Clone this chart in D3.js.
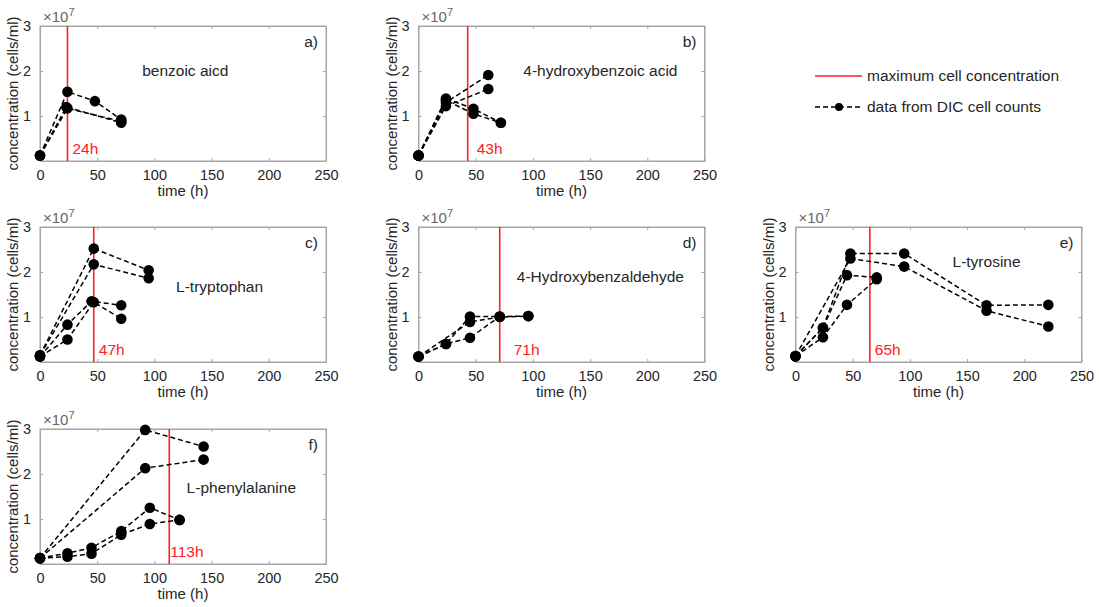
<!DOCTYPE html>
<html><head><meta charset="utf-8">
<script src="https://cdn.jsdelivr.net/npm/d3@7"></script>
<style>
body{margin:0;background:#fff;}
svg{font-family:"Liberation Sans",Arial,sans-serif;}
</style></head>
<body><svg id="chart" width="1099" height="607"></svg>
<script>
// ---------- data ----------
const xTicks = [0, 50, 100, 150, 200, 250];
const yTicks = [1, 2, 3];                 // ×10^7 cells/ml
const panelLetters = ["a)", "b)", "c)", "d)", "e)", "f)"];
const compounds = ["benzoic aicd", "4-hydroxybenzoic acid", "L-tryptophan", "4-Hydroxybenzaldehyde", "L-tyrosine", "L-phenylalanine"];
const maxTimes = [24, 43, 47, 71, 65, 113];
const maxLabels = ["24h", "43h", "47h", "71h", "65h", "113h"];
// each series: [time (h), concentration (×10^7)]
const seriesA = [
  [[0,0.12],[24,1.54],[48,1.33],[71,0.92]],
  [[0,0.12],[23,1.20],[71,0.85]],
  [[0,0.12],[24,1.17],[71,0.88]]
];
const seriesB = [
  [[0,0.12],[24,1.30],[61,1.91]],
  [[0,0.12],[24,1.22],[61,1.60]],
  [[0,0.12],[24,1.39],[48,1.16],[72,0.85]],
  [[0,0.12],[24,1.35],[48,1.05],[72,0.85]]
];
const seriesC = [
  [[0,0.15],[47,2.52],[95,2.04]],
  [[0,0.15],[47,2.17],[95,1.86]],
  [[0,0.12],[24,0.83],[45,1.35],[71,1.26]],
  [[0,0.12],[24,0.50],[47,1.33],[71,0.96]]
];
const seriesD = [
  [[0,0.12],[24,0.40],[45,1.01],[71,1.01],[96,1.02]],
  [[0,0.12],[45,0.89],[71,1.00],[96,1.02]],
  [[0,0.12],[24,0.40],[45,0.54],[71,1.01]]
];
const seriesE = [
  [[0,0.13],[24,0.76],[48,2.41],[95,2.41],[167,1.26],[221,1.27]],
  [[0,0.13],[48,2.30],[95,2.12],[167,1.14],[221,0.79]],
  [[0,0.13],[24,0.76],[45,1.93],[71,1.88]],
  [[0,0.13],[24,0.55],[45,1.27],[71,1.84]]
];
const seriesF = [
  [[0,0.13],[92,2.98],[143,2.61]],
  [[0,0.13],[92,2.13],[143,2.32]],
  [[0,0.13],[24,0.24],[45,0.36],[71,0.73],[96,1.25],[122,0.98]],
  [[0,0.13],[24,0.16],[45,0.23],[71,0.65],[96,0.89],[122,0.98]]
];
const allSeries = [seriesA, seriesB, seriesC, seriesD, seriesE, seriesF];
// compound name anchor (data coords: h, ×10^7)
const nameAnchors = [[127,2.0],[159,2.0],[157,1.67],[159,1.89],[167,2.23],[176,1.68]];
const legendLabels = ["maximum cell concentration", "data from DIC cell counts"];

// ---------- layout ----------
const origins = [[40,26],[418.5,26],[40,227],[418.5,227],[795.5,227],[40,429]];
const W = 286, H = 135;
const labelDx = [5, 9, 5, 14, 5, 1];
const boxColor = "#a6a6a6", textColor = "#262626", red = "#ff2020";

const svg = d3.select("#chart");

allSeries.forEach((series, i) => {
  const [ox, oy] = origins[i];
  const g = svg.append("g").attr("transform", `translate(${ox},${oy})`);
  const x = d3.scaleLinear().domain([0, 250]).range([0, W]);
  const y = d3.scaleLinear().domain([0, 3]).range([H, 0]);

  // axes
  const xb = g.append("g").attr("transform", `translate(0,${H})`)
    .call(d3.axisBottom(x).tickValues(xTicks).tickFormat(d3.format("d")).tickSizeInner(-3).tickSizeOuter(0).tickPadding(9));
  const xt = g.append("g").call(d3.axisTop(x).tickValues(xTicks).tickSizeInner(-3).tickSizeOuter(0).tickFormat(""));
  const yl = g.append("g").call(d3.axisLeft(y).tickValues(yTicks).tickFormat(d3.format("d")).tickSizeInner(-3).tickSizeOuter(0).tickPadding(9));
  const yr = g.append("g").attr("transform", `translate(${W},0)`)
    .call(d3.axisRight(y).tickValues(yTicks).tickSizeInner(-3).tickSizeOuter(0).tickFormat(""));
  [xb, xt, yl, yr].forEach(a => {
    a.select(".domain").attr("stroke", boxColor);
    a.selectAll(".tick line").attr("stroke", boxColor);
    a.selectAll(".tick text").attr("fill", textColor).style("font-size", "14.5px").style("font-family", "Liberation Sans, Arial, sans-serif");
  });
  g.append("rect").attr("width", W).attr("height", H).attr("fill", "none").attr("stroke", boxColor).attr("stroke-width", 1);

  // exponent
  const ex = g.append("text").attr("x", 3).attr("y", -4).attr("fill", "#666").style("font-size", "15px");
  ex.append("tspan").text("×10");
  ex.append("tspan").attr("dy", -6).style("font-size", "11px").text("7");

  // axis titles
  g.append("text").attr("transform", `translate(-22,${H/2}) rotate(-90)`).attr("text-anchor", "middle")
    .attr("fill", textColor).style("font-size", "15px").text("concentration (cells/ml)");
  g.append("text").attr("x", W/2).attr("y", H + 35).attr("text-anchor", "middle")
    .attr("fill", textColor).style("font-size", "15px").text("time (h)");

  // red max line
  g.append("line").attr("x1", x(maxTimes[i])).attr("x2", x(maxTimes[i])).attr("y1", 0).attr("y2", H)
    .attr("stroke", red).attr("stroke-width", 1.6);
  g.append("text").attr("x", x(maxTimes[i]) + labelDx[i]).attr("y", H - 7).attr("fill", red)
    .style("font-size", "15.5px").text(maxLabels[i]);

  // series
  const line = d3.line().x(d => x(d[0])).y(d => y(d[1]));
  series.forEach(s => {
    g.append("path").datum(s).attr("d", line).attr("fill", "none").attr("stroke", "#000")
      .attr("stroke-width", 1.5).attr("stroke-dasharray", "5,3");
  });
  series.forEach(s => {
    g.selectAll(null).data(s).enter().append("circle")
      .attr("cx", d => x(d[0])).attr("cy", d => y(d[1])).attr("r", 5.3).attr("fill", "#000");
  });

  // labels
  g.append("text").attr("x", x(nameAnchors[i][0])).attr("y", y(nameAnchors[i][1]) + 5).attr("text-anchor", "middle")
    .attr("fill", textColor).style("font-size", "15.5px").text(compounds[i]);
  g.append("text").attr("x", W - 8).attr("y", 21).attr("text-anchor", "end")
    .attr("fill", textColor).style("font-size", "15.5px").text(panelLetters[i]);
});

// legend
const lg = svg.append("g");
lg.append("line").attr("x1", 815).attr("x2", 862).attr("y1", 76).attr("y2", 76).attr("stroke", red).attr("stroke-width", 1.6);
lg.append("line").attr("x1", 815).attr("x2", 862).attr("y1", 107).attr("y2", 107).attr("stroke", "#000")
  .attr("stroke-width", 1.5).attr("stroke-dasharray", "5,3");
lg.append("circle").attr("cx", 839).attr("cy", 107).attr("r", 4).attr("fill", "#000");
lg.selectAll("text.leg").data(legendLabels).enter().append("text").attr("class", "leg")
  .attr("x", 867).attr("y", (d, k) => 81 + k * 31).attr("fill", textColor).style("font-size", "15.5px").text(d => d);
</script></body></html>
